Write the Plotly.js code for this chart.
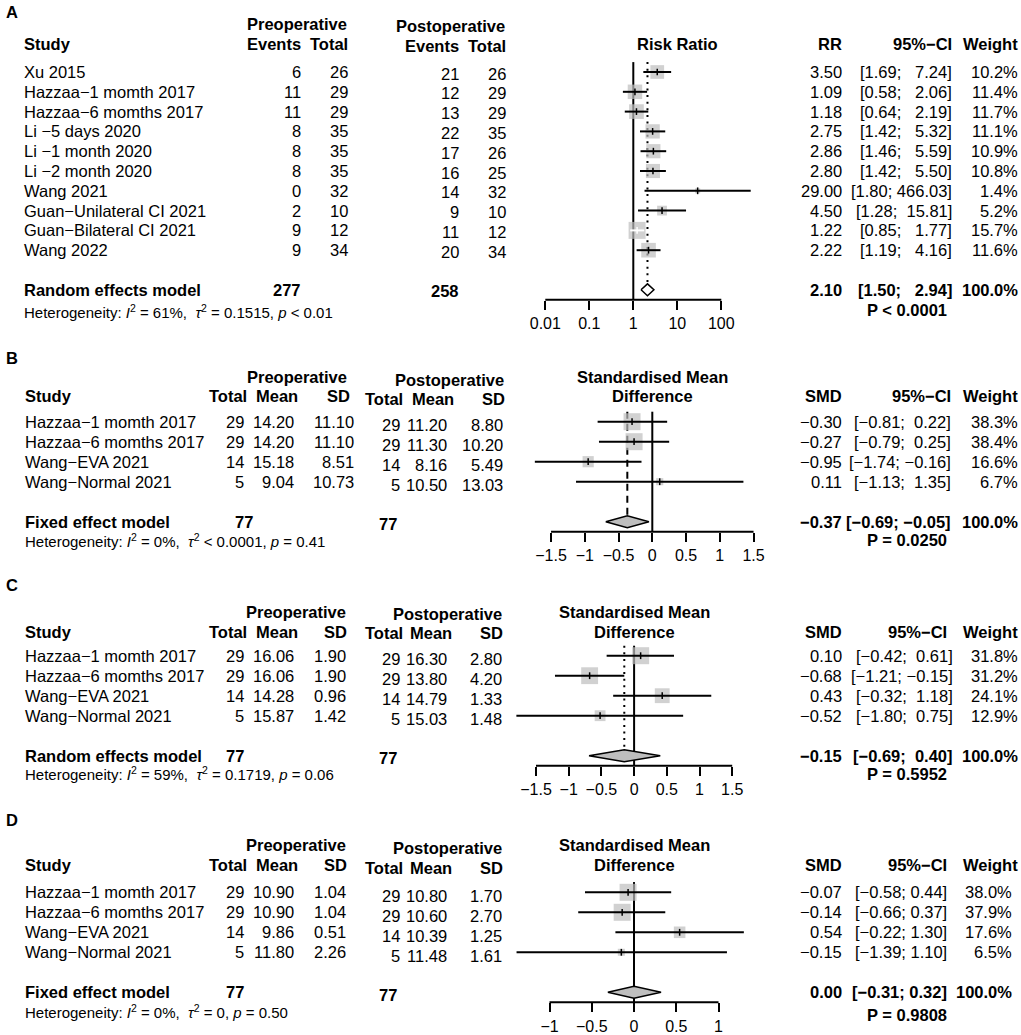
<!DOCTYPE html>
<html>
<head>
<meta charset="utf-8">
<script src="https://cdn.plot.ly/plotly-3.0.1.min.js"></script>
<style>html,body{margin:0;padding:0;background:#fff;}</style>
</head>
<body>
<div id="chart" style="width:1021px;height:1035px;"></div>
<script>
// ================= DATA =================
const M = "\u2212";
// Panel A
const studiesA = ["Xu 2015", "Hazzaa" + M + "1 momth 2017", "Hazzaa" + M + "6 momths 2017", "Li " + M + "5 days 2020", "Li " + M + "1 month 2020", "Li " + M + "2 month 2020", "Wang 2021", "Guan" + M + "Unilateral CI 2021", "Guan" + M + "Bilateral CI 2021", "Wang 2022"];
const preEventsA = [6, 11, 11, 8, 8, 8, 0, 2, 9, 9];
const preTotalA = [26, 29, 29, 35, 35, 35, 32, 10, 12, 34];
const postEventsA = [21, 12, 13, 22, 17, 16, 14, 9, 11, 20];
const postTotalA = [26, 29, 29, 35, 26, 25, 32, 10, 12, 34];
const rrA = [3.50, 1.09, 1.18, 2.75, 2.86, 2.80, 29.00, 4.50, 1.22, 2.22];
const rrLowA = [1.69, 0.58, 0.64, 1.42, 1.46, 1.42, 1.80, 1.28, 0.85, 1.19];
const rrHighA = [7.24, 2.06, 2.19, 5.32, 5.59, 5.50, 466.03, 15.81, 1.77, 4.16];
const weightA = [10.2, 11.4, 11.7, 11.1, 10.9, 10.8, 1.4, 5.2, 15.7, 11.6];
const pooledA = [2.10, 1.50, 2.94];
const sumTotalsA = [277, 258];
const modelA = "Random effects model";
const hetA = "Heterogeneity: <i>I</i><sup>2</sup> = 61%, \u00A0<i>\u03C4</i><sup>2</sup> = 0.1515, <i>p</i> &lt; 0.01";
const pvalA = "P &lt; 0.0001";
const ticksA = [0.01, 0.1, 1, 10, 100];
const tickLabelsA = ["0.01", "0.1", "1", "10", "100"];

// Panels B, C, D share studies and sample sizes
const studiesBCD = ["Hazzaa" + M + "1 momth 2017", "Hazzaa" + M + "6 momths 2017", "Wang" + M + "EVA 2021", "Wang" + M + "Normal 2021"];
const preTotalBCD = [29, 29, 14, 5];
const postTotalBCD = [29, 29, 14, 5];
const sumTotalsBCD = [77, 77];

// Panel B
const preMeanB = [14.20, 14.20, 15.18, 9.04];
const preSdB = [11.10, 11.10, 8.51, 10.73];
const postMeanB = [11.20, 11.30, 8.16, 10.50];
const postSdB = [8.80, 10.20, 5.49, 13.03];
const smdB = [-0.30, -0.27, -0.95, 0.11];
const smdLowB = [-0.81, -0.79, -1.74, -1.13];
const smdHighB = [0.22, 0.25, -0.16, 1.35];
const weightB = [38.3, 38.4, 16.6, 6.7];
const pooledB = [-0.37, -0.69, -0.05];
const modelB = "Fixed effect model";
const hetB = "Heterogeneity: <i>I</i><sup>2</sup> = 0%, \u00A0<i>\u03C4</i><sup>2</sup> &lt; 0.0001, <i>p</i> = 0.41";
const pvalB = "P = 0.0250";

// Panel C
const preMeanC = [16.06, 16.06, 14.28, 15.87];
const preSdC = [1.90, 1.90, 0.96, 1.42];
const postMeanC = [16.30, 13.80, 14.79, 15.03];
const postSdC = [2.80, 4.20, 1.33, 1.48];
const smdC = [0.10, -0.68, 0.43, -0.52];
const smdLowC = [-0.42, -1.21, -0.32, -1.80];
const smdHighC = [0.61, -0.15, 1.18, 0.75];
const weightC = [31.8, 31.2, 24.1, 12.9];
const pooledC = [-0.15, -0.69, 0.40];
const modelC = "Random effects model";
const hetC = "Heterogeneity: <i>I</i><sup>2</sup> = 59%, \u00A0<i>\u03C4</i><sup>2</sup> = 0.1719, <i>p</i> = 0.06";
const pvalC = "P = 0.5952";

// Panel D
const preMeanD = [10.90, 10.90, 9.86, 11.80];
const preSdD = [1.04, 1.04, 0.51, 2.26];
const postMeanD = [10.80, 10.60, 10.39, 11.48];
const postSdD = [1.70, 2.70, 1.25, 1.61];
const smdD = [-0.07, -0.14, 0.54, -0.15];
const smdLowD = [-0.58, -0.66, -0.22, -1.39];
const smdHighD = [0.44, 0.37, 1.30, 1.10];
const weightD = [38.0, 37.9, 17.6, 6.5];
const pooledD = [0.00, -0.31, 0.32];
const modelD = "Fixed effect model";
const hetD = "Heterogeneity: <i>I</i><sup>2</sup> = 0%, \u00A0<i>\u03C4</i><sup>2</sup> = 0, <i>p</i> = 0.50";
const pvalD = "P = 0.9808";

const ticksSMD = [-1.5, -1, -0.5, 0, 0.5, 1, 1.5];
const tickLabelsSMD = [M + "1.5", M + "1", M + "0.5", "0", "0.5", "1", "1.5"];
const ticksD = [-1, -0.5, 0, 0.5, 1];
const tickLabelsD = [M + "1", M + "0.5", "0", "0.5", "1"];

// ================= LAYOUT / HELPERS =================
const W = 1021, H = 1035;
const FONT = "Liberation Sans, Arial, Helvetica, sans-serif";
const GRAY = "#bebebe";
const NB = "\u00A0";
const FS = 16.5;

function fmt(v, d) {
  const s = Math.abs(v).toFixed(d);
  return (v < 0 && Number(s) !== 0 ? M : "") + s;
}
function padL(s, n) { while (s.length < n) s = NB + s; return s; }
function ciStrings(lo, hi) {
  const L = lo.map(v => fmt(v, 2)), U = hi.map(v => fmt(v, 2));
  const nl = Math.max(...L.map(s => s.length)), nu = Math.max(...U.map(s => s.length));
  return L.map((l, i) => "[" + padL(l, nl) + "; " + padL(U[i], nu) + "]");
}

const panels = [
  { label: "A", labelY: 12, band: [0, 338], row1: 72, rowH: 19.8, n: studiesA.length, sumRow: 12,
    log: true, zeroPx: 633.3, ppu: 44, ticks: ticksA, tickLabels: tickLabelsA, ref: 1,
    studies: studiesA, est: rrA, lo: rrLowA, hi: rrHighA, w: weightA, pooled: pooledA,
    model: modelA, het: hetA, pval: pvalA, totals: sumTotalsA,
    dash: "2px,4.6px", diamondFill: "white",
    headTop: [["Preoperative", 348, 24], ["Postoperative", 505.5, 25.5]],
    headRow: [["Study", 23, 44, "left"], ["Events", 302, 44, "right"], ["Total", 348.5, 44, "right"],
              ["Events", 460, 45.5, "right"], ["Total", 507, 45.5, "right"],
              ["RR", 843, 43.5, "right"], ["95%" + M + "CI", 952.5, 43.5, "right"], ["Weight", 1019, 43.5, "right"]],
    titles: [["Risk Ratio", 43.5]],
    preCols: [[preEventsA, 302, 0], [preTotalA, 348.5, 0]],
    postCols: [[postEventsA, 460, 0], [postTotalA, 507, 0]], postDy: 0.08,
    estX: 843, ciX: 952.5, wX: 1019, wSumX: 1019, sumPreX: 302, sumPostX: 460,
    hetY: 311, pY: 310 },
  { label: "B", labelY: 358.3, band: [338, 572], row1: 421.7, rowH: 20, n: 4, sumRow: 6,
    log: false, zeroPx: 652.3, ppu: 67.5, ticks: ticksSMD, tickLabels: tickLabelsSMD, ref: 0,
    studies: studiesBCD, est: smdB, lo: smdLowB, hi: smdHighB, w: weightB, pooled: pooledB,
    model: modelB, het: hetB, pval: pvalB, totals: sumTotalsBCD,
    dash: "7px,5px", diamondFill: GRAY,
    headTop: [["Preoperative", 348.3, 376.7], ["Postoperative", 505, 380]],
    headRow: [["Study", 24, 396, "left"], ["Total", 248.3, 396, "right"], ["Mean", 299, 396, "right"], ["SD", 351, 396, "right"],
              ["Total", 404.3, 399.3, "right"], ["Mean", 455, 399.3, "right"], ["SD", 506, 399.3, "right"],
              ["SMD", 843, 396, "right"], ["95%" + M + "CI", 952.3, 396, "right"], ["Weight", 1019, 396, "right"]],
    titles: [["Standardised Mean", 376.7], ["Difference", 396]],
    preCols: [[preTotalBCD, 245, 0], [preMeanB, 295, 2], [preSdB, 355, 2]],
    postCols: [[postTotalBCD, 401, 0], [postMeanB, 447.7, 2], [postSdB, 504, 2]], postDy: 0.165,
    estX: 843, ciX: 952.3, wX: 1018.5, wSumX: 1019, sumPreX: 254, sumPostX: 398.3,
    hetY: 540, pY: 540 },
  { label: "C", labelY: 585, band: [572, 805], row1: 655.7, rowH: 20, n: 4, sumRow: 6,
    log: false, zeroPx: 634.1, ppu: 65.4, ticks: ticksSMD, tickLabels: tickLabelsSMD, ref: 0,
    studies: studiesBCD, est: smdC, lo: smdLowC, hi: smdHighC, w: weightC, pooled: pooledC,
    model: modelC, het: hetC, pval: pvalC, totals: sumTotalsBCD,
    dash: "2px,4.6px", diamondFill: GRAY,
    headTop: [["Preoperative", 346.7, 611.7], ["Postoperative", 502.7, 614.3]],
    headRow: [["Study", 24, 631.7, "left"], ["Total", 248.3, 631.7, "right"], ["Mean", 299, 631.7, "right"], ["SD", 348.3, 631.7, "right"],
              ["Total", 404.3, 633.3, "right"], ["Mean", 452.7, 633.3, "right"], ["SD", 504.3, 633.3, "right"],
              ["SMD", 843.3, 631.7, "right"], ["95%" + M + "CI", 947.7, 631.7, "right"], ["Weight", 1019, 631.7, "right"]],
    titles: [["Standardised Mean", 611.7], ["Difference", 631.7]],
    preCols: [[preTotalBCD, 245, 0], [preMeanC, 295, 2], [preSdC, 346.7, 2]],
    postCols: [[postTotalBCD, 401, 0], [postMeanC, 448.3, 2], [postSdC, 502.7, 2]], postDy: 0.165,
    estX: 843, ciX: 954, wX: 1019, wSumX: 1019, sumPreX: 245, sumPostX: 398.3,
    hetY: 773.3, pY: 774 },
  { label: "D", labelY: 820, band: [805, 1035], row1: 892.3, rowH: 20, n: 4, sumRow: 6,
    log: false, zeroPx: 634, ppu: 84.5, ticks: ticksD, tickLabels: tickLabelsD, ref: 0,
    studies: studiesBCD, est: smdD, lo: smdLowD, hi: smdHighD, w: weightD, pooled: pooledD,
    model: modelD, het: hetD, pval: pvalD, totals: sumTotalsBCD,
    dash: "7px,5px", diamondFill: GRAY,
    headTop: [["Preoperative", 346.7, 845], ["Postoperative", 502.7, 848.3]],
    headRow: [["Study", 24, 865, "left"], ["Total", 248.3, 865, "right"], ["Mean", 299, 865, "right"], ["SD", 348.3, 865, "right"],
              ["Total", 404.3, 868.3, "right"], ["Mean", 452.7, 868.3, "right"], ["SD", 504.3, 868.3, "right"],
              ["SMD", 843.3, 865, "right"], ["95%" + M + "CI", 947.7, 865, "right"], ["Weight", 1019, 865, "right"]],
    titles: [["Standardised Mean", 845], ["Difference", 865]],
    preCols: [[preTotalBCD, 245, 0], [preMeanD, 295, 2], [preSdD, 346.7, 2]],
    postCols: [[postTotalBCD, 401, 0], [postMeanD, 448.3, 2], [postSdD, 502.7, 2]], postDy: 0.165,
    estX: 843, ciX: 947.7, wX: 1013.3, wSumX: 1013.3, sumPreX: 245, sumPostX: 398.3,
    hetY: 1011.7, pY: 1015 }
];

const traces = [];
const annotations = [];
const layout = {
  width: W, height: H, margin: { l: 0, r: 0, t: 0, b: 0 },
  paper_bgcolor: "white", plot_bgcolor: "rgba(0,0,0,0)", showlegend: false,
  font: { family: FONT, size: 16, color: "black" }, hovermode: false
};

function text(t, xpx, y, yref, xanchor, size, bold) {
  annotations.push({ text: bold ? "<b>" + t + "</b>" : t, x: xpx / W, xref: "paper", y: y, yref: yref,
    xanchor: xanchor, yanchor: "middle", showarrow: false, borderpad: 0,
    font: { family: FONT, size: size || FS, color: "black" } });
}
const py = p => 1 - p / H;

panels.forEach((P, k) => {
  const s = k === 0 ? "" : String(k + 1);
  const xa = "x" + s, ya = "y" + s;
  const rowOf = p => (p - P.row1) / P.rowH + 1;
  const rowPx = r => P.row1 + P.rowH * (r - 1);
  const rows = P.est.map((_, i) => i + 1);
  const axisRow = P.sumRow + 0.5;
  const dh = 0.3;
  const xdomPx = [500, 780];
  const toR = p => (p - P.zeroPx) / P.ppu;

  layout["yaxis" + s] = { domain: [py(P.band[1]), py(P.band[0])], range: [rowOf(P.band[1]), rowOf(P.band[0])],
    visible: false, fixedrange: true, anchor: xa };
  layout["xaxis" + s] = { domain: [xdomPx[0] / W, xdomPx[1] / W], range: [toR(xdomPx[0]), toR(xdomPx[1])],
    type: P.log ? "log" : "linear", anchor: "free", position: py(rowPx(axisRow)), side: "bottom",
    tickmode: "array", tickvals: P.ticks, ticktext: P.tickLabels, ticks: "outside", ticklen: 9, tickwidth: 2,
    tickcolor: "black", showline: false, showgrid: false, zeroline: false, fixedrange: true,
    ticklabelstandoff: 0, tickfont: { family: FONT, size: 16, color: "black" } };

  const base = { xaxis: xa, yaxis: ya, hoverinfo: "skip", showlegend: false };
  // reference line
  traces.push(Object.assign({ type: "scatter", mode: "lines", x: [P.ref, P.ref], y: [0.5, axisRow],
    line: { color: "black", width: 2 } }, base));
  // pooled estimate line
  traces.push(Object.assign({ type: "scatter", mode: "lines", x: [P.pooled[0], P.pooled[0]], y: [0.5, P.sumRow - dh],
    line: { color: "black", width: 2, dash: P.dash } }, base));
  // squares
  const wmax = Math.max(...P.w);
  const sizes = P.w.map(w => 17 * Math.sqrt(w / wmax));
  traces.push(Object.assign({ type: "scatter", mode: "markers", x: P.est, y: rows,
    marker: { symbol: "square", size: sizes, color: GRAY, line: { width: 0 } } }, base));
  // CI lines (white when the interval lies inside the square)
  const ciBlack = { x: [], y: [] }, ciWhite = { x: [], y: [] };
  const tkBlack = { x: [], y: [] }, tkWhite = { x: [], y: [] };
  P.est.forEach((e, i) => {
    const half = sizes[i] / 2 / P.ppu;
    const ce = P.log ? Math.log10(e) : e;
    const cl = P.log ? Math.log10(P.lo[i]) : P.lo[i];
    const ch = P.log ? Math.log10(P.hi[i]) : P.hi[i];
    const inside = cl >= ce - half && ch <= ce + half;
    const c = inside ? ciWhite : ciBlack, t = inside ? tkWhite : tkBlack;
    c.x.push(P.lo[i], P.hi[i], null); c.y.push(rows[i], rows[i], null);
    t.x.push(e, e, null); t.y.push(rows[i] - 0.17, rows[i] + 0.17, null);
  });
  traces.push(Object.assign({ type: "scatter", mode: "lines", x: ciBlack.x, y: ciBlack.y, line: { color: "black", width: 2 } }, base));
  traces.push(Object.assign({ type: "scatter", mode: "lines", x: ciWhite.x, y: ciWhite.y, line: { color: "white", width: 2 } }, base));
  traces.push(Object.assign({ type: "scatter", mode: "lines", x: tkBlack.x, y: tkBlack.y, line: { color: "black", width: 1.5 } }, base));
  traces.push(Object.assign({ type: "scatter", mode: "lines", x: tkWhite.x, y: tkWhite.y, line: { color: "white", width: 1.5 } }, base));
  // diamond
  const [pe, pl, ph] = P.pooled;
  traces.push(Object.assign({ type: "scatter", mode: "lines", fill: "toself", fillcolor: P.diamondFill,
    x: [pl, pe, ph, pe, pl], y: [P.sumRow, P.sumRow - dh, P.sumRow, P.sumRow + dh, P.sumRow],
    line: { color: "black", width: 1.5 } }, base));
  // axis line
  traces.push(Object.assign({ type: "scatter", mode: "lines", x: [P.ticks[0], P.ticks[P.ticks.length - 1]], y: [axisRow, axisRow],
    line: { color: "black", width: 2 } }, base));

  // ---------- text ----------
  text(P.label, 5, py(P.labelY), "paper", "left", 16.5, true);
  P.headTop.forEach(h => text(h[0], h[1], py(h[2]), "paper", "right", FS, true));
  P.headRow.forEach(h => text(h[0], h[1], py(h[2]), "paper", h[3], FS, true));
  P.titles.forEach(h => annotations.push({ text: "<b>" + h[0] + "</b>", x: P.ref, xref: xa, y: py(h[1]), yref: "paper",
    xanchor: "center", yanchor: "middle", showarrow: false, borderpad: 0, font: { family: FONT, size: FS, color: "black" } }));
  const cis = ciStrings(P.lo.concat([pl]), P.hi.concat([ph]));
  P.studies.forEach((st, i) => {
    const r = rows[i];
    text(st, P.headRow[0][1], r, ya, "left", FS, false);
    P.preCols.forEach(c => text(fmt(c[0][i], c[2]), c[1], r, ya, "right", FS, false));
    P.postCols.forEach(c => text(fmt(c[0][i], c[2]), c[1], r + P.postDy, ya, "right", FS, false));
    text(fmt(P.est[i], 2), P.estX, r, ya, "right", FS, false);
    text(cis[i], P.ciX, r, ya, "right", FS, false);
    text(P.w[i].toFixed(1) + "%", P.wX, r, ya, "right", FS, false);
  });
  text(P.model, P.headRow[0][1], P.sumRow, ya, "left", FS, true);
  text(String(P.totals[0]), P.sumPreX, P.sumRow, ya, "right", FS, true);
  text(String(P.totals[1]), P.sumPostX, P.sumRow + P.postDy * 0.8, ya, "right", FS, true);
  text(fmt(pe, 2), P.estX, P.sumRow, ya, "right", FS, true);
  text(cis[cis.length - 1], P.ciX, P.sumRow, ya, "right", FS, true);
  text("100.0%", P.wSumX, P.sumRow, ya, "right", FS, true);
  text(P.het, P.headRow[0][1], py(P.hetY), "paper", "left", 15, false);
  annotations.push({ text: "<b>" + P.pval + "</b>", x: 906.5 / W, xref: "paper", y: py(P.pY), yref: "paper",
    xanchor: "center", yanchor: "middle", showarrow: false, borderpad: 0, font: { family: FONT, size: FS, color: "black" } });
});

layout.annotations = annotations;
Plotly.newPlot("chart", traces, layout, { staticPlot: true, displayModeBar: false });
</script>
</body>
</html>
